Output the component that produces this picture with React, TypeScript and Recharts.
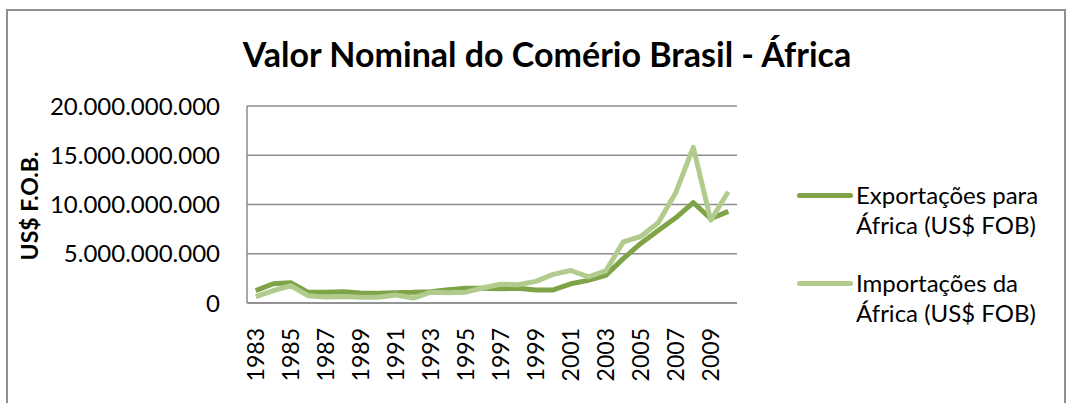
import { LineChart, Line, XAxis, YAxis, CartesianGrid } from "recharts"

const years = [
  "1983", "1984", "1985", "1986", "1987", "1988", "1989", "1990", "1991", "1992",
  "1993", "1994", "1995", "1996", "1997", "1998", "1999", "2000", "2001", "2002",
  "2003", "2004", "2005", "2006", "2007", "2008", "2009", "2010",
]

// billions of US$
const exportacoes = [
  1.25, 1.95, 2.05, 1.08, 1.1, 1.15, 1.02, 1.0, 1.05, 1.08,
  1.15, 1.35, 1.5, 1.5, 1.45, 1.5, 1.32, 1.33, 1.95, 2.3,
  2.8, 4.5, 6.05, 7.35, 8.65, 10.2, 8.55, 9.3,
]

const importacoes = [
  0.65, 1.25, 1.75, 0.74, 0.6, 0.65, 0.58, 0.58, 0.82, 0.5,
  1.1, 1.05, 1.1, 1.55, 1.9, 1.85, 2.2, 2.9, 3.3, 2.65,
  3.25, 6.2, 6.75, 8.15, 11.2, 15.8, 8.4, 11.3,
]

const yTicks = [0, 5e9, 10e9, 15e9, 20e9]

const darkGreen = "#7fa347"
const lightGreen = "#b1cb8d"
const font = "Lato, 'Open Sans', sans-serif"

const data = years.map((year, i) => ({
  year,
  exp: exportacoes[i] * 1e9,
  imp: importacoes[i] * 1e9,
}))

const fmt = (v: number) => String(Math.round(v)).replace(/\B(?=(\d{3})+(?!\d))/g, ".")

function YearTick({ x, y, payload }: any) {
  return (
    <text
      x={x}
      y={y + 17}
      transform={`rotate(-90 ${x} ${y + 17})`}
      textAnchor="end"
      dy="0.36em"
      fontSize={23}
      fontFamily={font}
      fill="#000"
    >
      {payload.value}
    </text>
  )
}

function LegendBox() {
  const items = [
    { color: darkGreen, lines: ["Exportações para", "África (US$ FOB)"] },
    { color: lightGreen, lines: ["Importações da", "África (US$ FOB)"] },
  ]
  return (
    <div style={{ fontFamily: font, fontSize: 24, color: "#000", lineHeight: "30px" }}>
      {items.map((it, i) => (
        <div key={i} style={{ display: "flex", alignItems: "flex-start", marginBottom: i === 0 ? 28 : 0 }}>
          <div style={{ width: 56, height: 5, borderRadius: 3, background: it.color, marginTop: 13, marginRight: 3 }} />
          <div>
            {it.lines.map((l) => (
              <div key={l}>{l}</div>
            ))}
          </div>
        </div>
      ))}
    </div>
  )
}

export default function App() {
  return (
    <div style={{ position: "absolute", left: 0, top: 0, width: 1070, height: 403, background: "#fff", overflow: "hidden" }}>
      <div
        style={{
          position: "absolute",
          left: 6,
          top: 9,
          width: 1056,
          height: 410,
          border: "2px solid #8f8f8f",
        }}
      />
      <div
        style={{
          position: "absolute",
          left: 0,
          top: 33,
          width: 1094,
          textAlign: "center",
          fontFamily: font,
          fontWeight: "bold",
          fontSize: 34,
          color: "#000",
        }}
      >
        Valor Nominal do Comério Brasil - África
      </div>
      <div style={{ position: "absolute", left: 797, top: 180, width: 270 }}>
        <LegendBox />
      </div>
      <div style={{ position: "absolute", left: 0, top: 0 }}>
        <LineChart width={1070} height={403} data={data} margin={{ top: 106, right: 333, bottom: 0, left: 0 }}>
          <CartesianGrid vertical={false} stroke="#8c8c8c" strokeWidth={1.5} />
          <XAxis
            dataKey="year"
            interval={1}
            padding={{ left: 8.75, right: 8.75 }}
            tick={<YearTick />}
            tickLine={false}
            axisLine={{ stroke: "#8c8c8c", strokeWidth: 1.5 }}
            height={100}
          />
          <YAxis
            domain={[0, 20e9]}
            ticks={yTicks}
            tickFormatter={fmt}
            width={247}
            tickSize={0}
            tickMargin={27}
            tickLine={false}
            axisLine={{ stroke: "#8c8c8c", strokeWidth: 1.5 }}
            tick={{ fill: "#000", fontSize: 24, fontFamily: font }}
            label={{
              content: () => (
                <text
                  x={30}
                  y={206}
                  transform="rotate(-90 30 206)"
                  textAnchor="middle"
                  dy="0.36em"
                  fontSize={23}
                  fontWeight="bold"
                  fontFamily={font}
                  fill="#000"
                >
                  US$ F.O.B.
                </text>
              ),
            }}
          />
          <Line
            type="linear"
            dataKey="exp"
            name="Exportações para África (US$ FOB)"
            stroke={darkGreen}
            strokeWidth={5}
            strokeLinejoin="round"
            dot={false}
            isAnimationActive={false}
          />
          <Line
            type="linear"
            dataKey="imp"
            name="Importações da África (US$ FOB)"
            stroke={lightGreen}
            strokeWidth={5}
            strokeLinejoin="round"
            dot={false}
            isAnimationActive={false}
          />
        </LineChart>
      </div>
    </div>
  )
}
